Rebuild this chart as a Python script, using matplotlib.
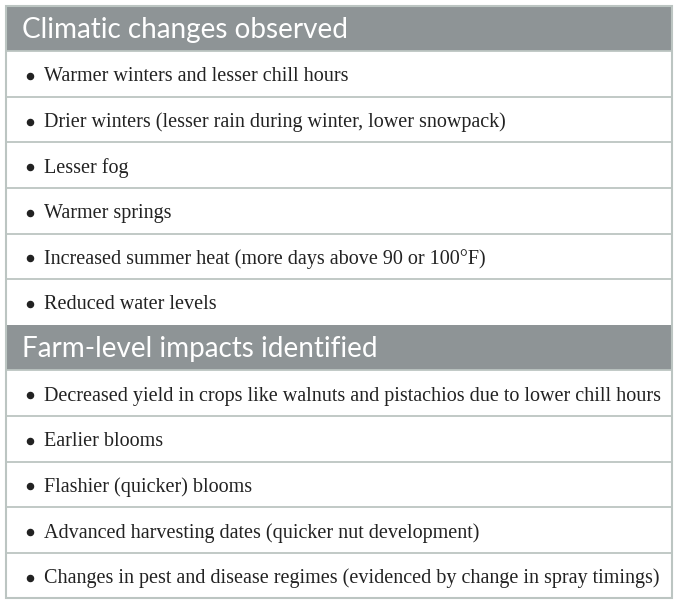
import matplotlib
matplotlib.use("Agg")
import matplotlib.pyplot as plt
from matplotlib.patches import Rectangle

header1 = "Climatic changes observed"
rows1 = [
    "Warmer winters and lesser chill hours",
    "Drier winters (lesser rain during winter, lower snowpack)",
    "Lesser fog",
    "Warmer springs",
    "Increased summer heat (more days above 90 or 100\u00b0F)",
    "Reduced water levels",
]
header2 = "Farm-level impacts identified"
rows2 = [
    "Decreased yield in crops like walnuts and pistachios due to lower chill hours",
    "Earlier blooms",
    "Flashier (quicker) blooms",
    "Advanced harvesting dates (quicker nut development)",
    "Changes in pest and disease regimes (evidenced by change in spray timings)",
]

W, H = 677, 603
fig = plt.figure(figsize=(W / 100, H / 100), dpi=100)
ax = fig.add_axes([0, 0, 1, 1])
ax.set_xlim(0, W)
ax.set_ylim(H, 0)
ax.axis("off")

left, right = 5.5, 671.5
top = 5.5
row_h = 45.6
head_col = "#8e9496"
line_col = "#bcc5c2"

y = top
for header, rows in [(header1, rows1), (header2, rows2)]:
    ax.add_patch(Rectangle((left, y), right - left, row_h, facecolor=head_col,
                           edgecolor="none", zorder=1))
    ax.text(22, y + row_h / 2 + 1.5, header, color="white", fontsize=20.1,
            family="Lato", va="center", ha="left", zorder=3)
    y += row_h
    for r in rows:
        ax.plot([left, right], [y, y], color=line_col, lw=1.3, zorder=2)
        ax.plot(30, y + row_h / 2 + 2, "o", color="#222222", ms=4.4, zorder=3)
        ax.text(44, y + row_h / 2 + 3, r, color="#222222", fontsize=14.5,
                family="Liberation Serif", va="center", ha="left", zorder=3)
        y += row_h

ax.add_patch(Rectangle((left, top), right - left, y - top, facecolor="none",
                       edgecolor=line_col, lw=1.5, zorder=4))

fig.savefig("out.png", dpi=100)
